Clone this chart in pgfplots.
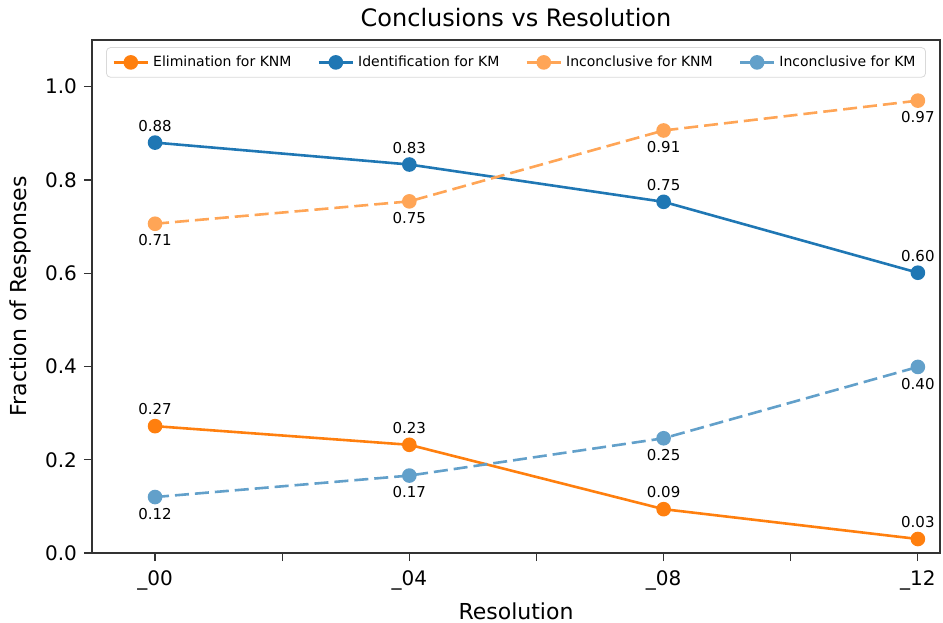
\documentclass[border=0pt]{standalone}
\usepackage{fontspec}
\setmainfont{DejaVu Sans}
\usepackage{pgfplots}
\pgfplotsset{compat=1.18}
\definecolor{cor}{HTML}{FF7F0E}
\definecolor{cbl}{HTML}{1F77B4}
\definecolor{lor}{HTML}{FFA556}
\definecolor{lbl}{HTML}{62A0CA}
\begin{document}
\begin{tikzpicture}
\useasboundingbox (-46pt,-34.5pt) rectangle (425.5pt,276.5pt);
\begin{axis}[at={(0,0)}, anchor=south west, scale only axis,
  width=424pt, height=256.5pt,
  xmin=-0.248, xmax=3.087, ymin=0, ymax=1.1,
  xtick={0,0.5,1,1.5,2,2.5,3}, xticklabels={\_00,,\_04,,\_08,,\_12},
  ytick={0,0.2,0.4,0.6,0.8,1.0},
  yticklabel style={/pgf/number format/fixed, /pgf/number format/precision=1, /pgf/number format/fixed zerofill},
  /pgf/number format/assume math mode=true,
  tick label style={font=\fontsize{10}{12}\selectfont},
  xticklabel style={yshift=-1.5pt},
  tick align=outside, tick pos=left, major tick length=4pt,
  tick style={black!80, line width=0.6pt},
  axis line style={black!80, line width=0.6pt},
  title={Conclusions vs Resolution},
  title style={font=\fontsize{12}{14}\selectfont, yshift=-3pt},
  xlabel={Resolution}, ylabel={Fraction of Responses},
  label style={font=\fontsize{11}{13}\selectfont},
  xlabel style={yshift=1pt},
  legend style={at={(0.5,0.986)}, anchor=north, legend columns=4,
    font=\fontsize{7}{8}\selectfont, draw=black!15, rounded corners=2pt,
    /tikz/every even column/.append style={column sep=11pt}},
  legend cell align=left,
  every axis plot/.append style={line width=1.3pt, mark=*, mark size=3pt, mark options={solid}},
  nodes near coords,
  nodes near coords style={font=\fontsize{7.5}{9}\selectfont, text=black,
    /pgf/number format/fixed, /pgf/number format/precision=2, /pgf/number format/fixed zerofill},
]
\addplot[color=cor, nodes near coords style={anchor=south, yshift=1.5pt}] coordinates {(0,0.272) (1,0.232) (2,0.094) (3,0.030)};
\addlegendentry{Elimination for KNM}
\addplot[color=cbl, nodes near coords style={anchor=south, yshift=1.5pt}] coordinates {(0,0.880) (1,0.833) (2,0.753) (3,0.601)};
\addlegendentry{Identification for KM}
\addplot[color=lor, dash pattern=on 7pt off 3pt, nodes near coords style={anchor=north, yshift=-1.5pt}] coordinates {(0,0.706) (1,0.754) (2,0.906) (3,0.970)};
\addlegendentry{Inconclusive for KNM}
\addplot[color=lbl, dash pattern=on 7pt off 3pt, nodes near coords style={anchor=north, yshift=-1.5pt}] coordinates {(0,0.120) (1,0.166) (2,0.246) (3,0.399)};
\addlegendentry{Inconclusive for KM}
\end{axis}
\end{tikzpicture}
\end{document}
